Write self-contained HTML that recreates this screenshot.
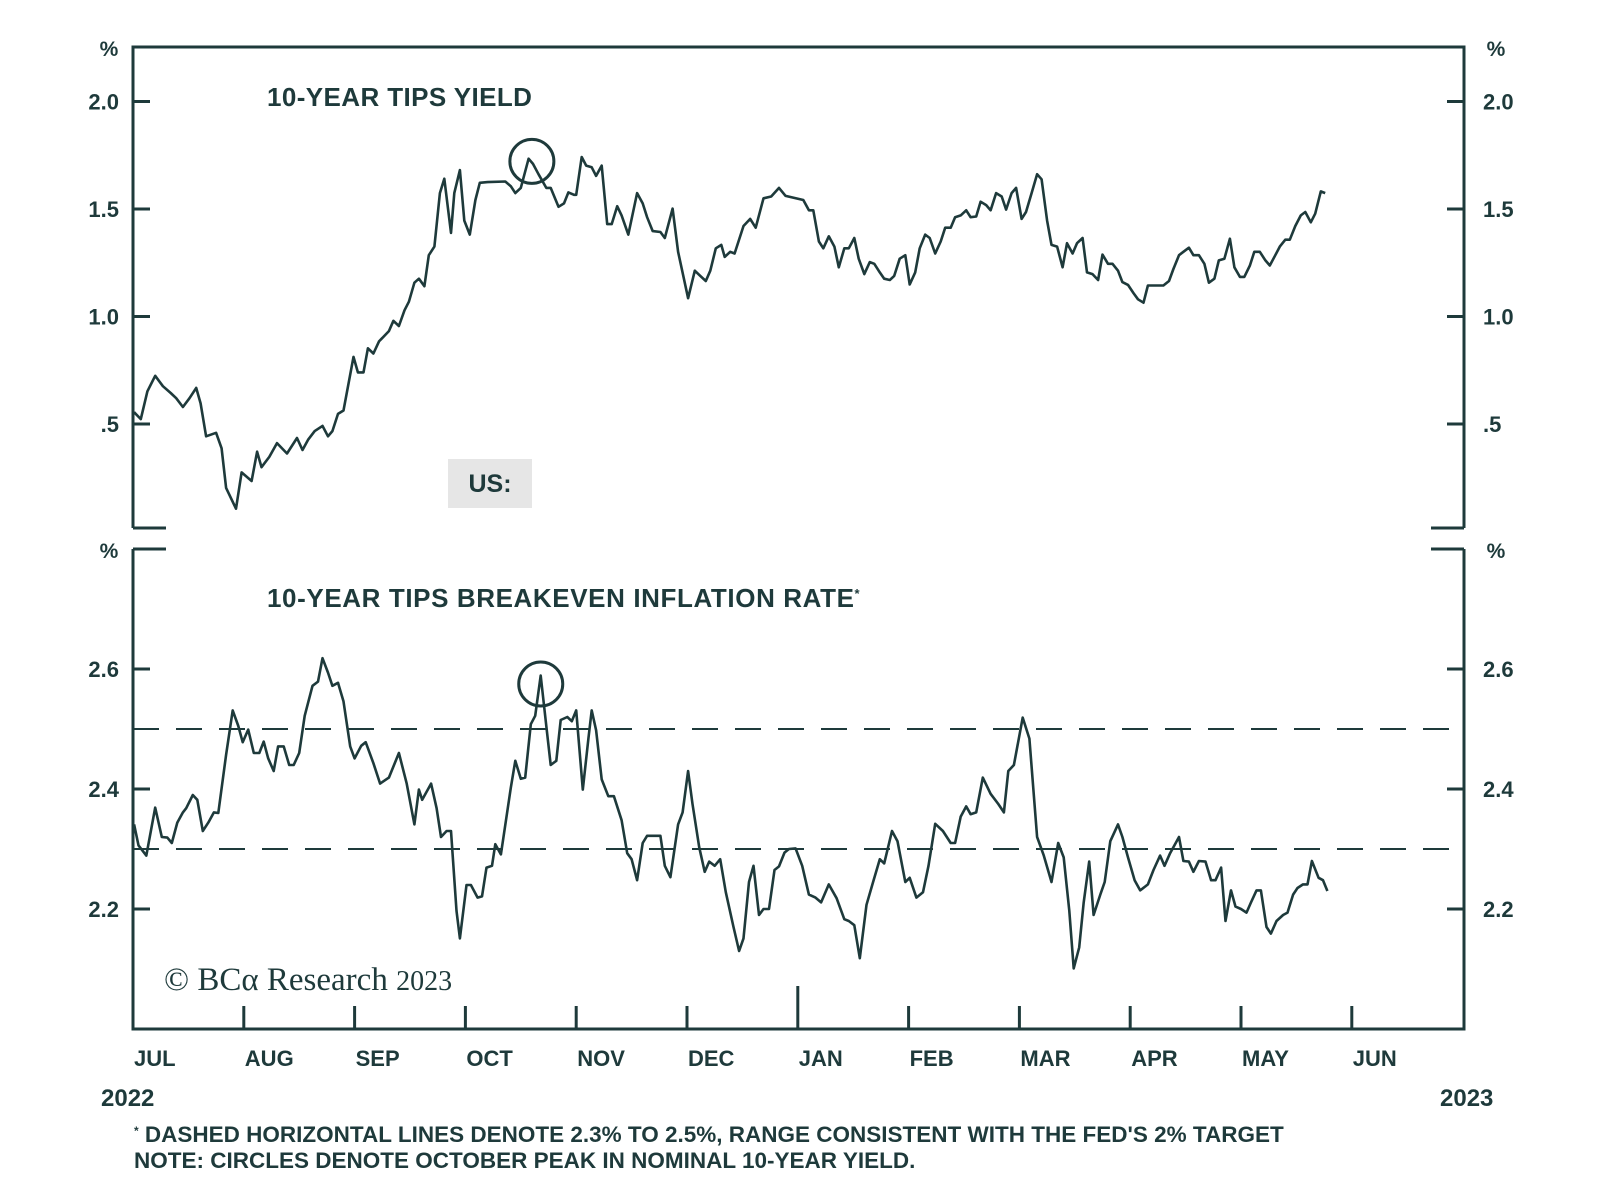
<!DOCTYPE html>
<html><head><meta charset="utf-8"><style>
html,body{margin:0;padding:0;background:#fff;}
svg{display:block;font-family:"Liberation Sans",sans-serif;}
</style></head><body>
<svg id="chart" width="1600" height="1186" viewBox="0 0 1600 1186" xmlns="http://www.w3.org/2000/svg">
<g id="frame" stroke="#1e3a3b" stroke-width="3" fill="none">
<path d="M133,528 L133,47 L1464,47 L1464,528"/>
<line x1="133" y1="528" x2="166" y2="528"/>
<line x1="1431" y1="528" x2="1464" y2="528"/>
<path d="M133,549 L133,1029 L1464,1029 L1464,549"/>
<line x1="133" y1="549" x2="166" y2="549"/>
<line x1="1431" y1="549" x2="1464" y2="549"/>
</g>
<g fill="#1e3a3b" font-weight="bold">
<text x="109" y="56" font-size="21" text-anchor="middle">%</text>
<text x="1496" y="56" font-size="21" text-anchor="middle">%</text>
<text x="109" y="558" font-size="21" text-anchor="middle">%</text>
<text x="1496" y="558" font-size="21" text-anchor="middle">%</text>
<text x="267" y="106" font-size="26" letter-spacing="0.4">10-YEAR TIPS YIELD</text>
<text x="267" y="607" font-size="26" letter-spacing="0.6">10-YEAR TIPS BREAKEVEN INFLATION RATE<tspan font-size="13" dy="-9">*</tspan></text>
</g>
<rect x="448" y="459" width="84" height="49" fill="#e6e6e6"/>
<text x="490" y="492" font-size="25" font-weight="bold" fill="#1e3a3b" text-anchor="middle">US:</text>
<text x="164" y="990" font-size="33" fill="#1e3a3b" font-family="Liberation Serif,serif">© BCα Research <tspan font-size="28">2023</tspan></text>
<g id="topAxes"></g><g id="botAxes"></g><g id="xAxis"></g>
<g id="series"></g>
<text x="101" y="1106" font-size="24" font-weight="bold" fill="#1e3a3b">2022</text>
<text x="1440" y="1106" font-size="24" font-weight="bold" fill="#1e3a3b">2023</text>
<text x="134" y="1142" font-size="22.5" font-weight="bold" fill="#1e3a3b"><tspan font-size="12" dy="-7">*</tspan><tspan dy="7"> DASHED HORIZONTAL LINES DENOTE 2.3% TO 2.5%, RANGE CONSISTENT WITH THE FED'S 2% TARGET</tspan></text>
<text x="134" y="1168" font-size="22.5" font-weight="bold" fill="#1e3a3b">NOTE: CIRCLES DENOTE OCTOBER PEAK IN NOMINAL 10-YEAR YIELD.</text>
</svg>
<script>
const monthLabels=["JUL","AUG","SEP","OCT","NOV","DEC","JAN","FEB","MAR","APR","MAY","JUN"];
const topTicks=[2.0,1.5,1.0,0.5];
const topTickLabels=["2.0","1.5","1.0",".5"];
const botTicks=[2.6,2.4,2.2];
const botTickLabels=["2.6","2.4","2.2"];
const targetBand=[2.5,2.3];
const peakMonth=3.6;
const peakTipsValue=1.74;
const peakBreakevenValue=2.575;
const tipsMonths=[0.01,0.07,0.13,0.20,0.27,0.34,0.39,0.45,0.51,0.57,0.61,0.66,0.75,0.80,0.84,0.93,0.98,1.07,1.12,1.16,1.23,1.30,1.39,1.48,1.53,1.58,1.64,1.71,1.76,1.80,1.85,1.90,1.99,2.03,2.08,2.12,2.17,2.22,2.31,2.35,2.40,2.45,2.49,2.54,2.58,2.63,2.67,2.72,2.77,2.81,2.87,2.90,2.95,2.99,3.04,3.09,3.13,3.20,3.36,3.41,3.45,3.50,3.57,3.61,3.66,3.73,3.77,3.84,3.89,3.93,3.98,4.00,4.05,4.09,4.14,4.18,4.23,4.28,4.32,4.37,4.41,4.47,4.55,4.60,4.64,4.69,4.76,4.80,4.87,4.92,5.01,5.07,5.12,5.17,5.21,5.26,5.31,5.34,5.39,5.43,5.51,5.57,5.62,5.69,5.76,5.83,5.89,
6.05,6.10,6.14,6.19,6.23,6.28,6.33,6.37,6.42,6.46,6.51,6.55,6.60,6.65,6.69,6.74,6.78,6.83,6.87,6.92,6.97,7.01,7.06,7.10,7.15,7.19,7.24,7.29,7.33,7.38,7.42,7.47,7.52,7.56,7.61,7.65,7.70,7.74,7.79,7.84,7.88,7.93,7.97,8.02,8.06,8.11,8.16,8.20,8.25,8.29,8.34,8.39,8.43,8.48,8.52,8.57,8.61,8.66,8.71,8.75,8.80,8.84,8.89,8.93,8.98,9.03,9.07,9.12,9.16,9.21,9.30,9.35,9.39,9.44,9.48,9.53,9.57,9.62,9.67,9.71,9.76,9.80,9.85,9.90,9.94,9.99,10.03,10.08,10.12,10.17,10.22,10.26,10.31,10.35,10.40,10.44,10.49,10.54,10.58,10.63,10.67,10.72,10.76];
const tipsValues=[0.555,0.523,0.652,0.724,0.676,0.644,0.620,0.579,0.620,0.668,0.596,0.443,0.459,0.387,0.203,0.106,0.275,0.235,0.371,0.299,0.347,0.411,0.363,0.435,0.379,0.427,0.467,0.491,0.443,0.467,0.547,0.563,0.812,0.740,0.740,0.852,0.828,0.884,0.932,0.980,0.956,1.029,1.069,1.157,1.176,1.141,1.285,1.325,1.574,1.641,1.389,1.574,1.681,1.446,1.381,1.542,1.622,1.625,1.628,1.606,1.574,1.598,1.734,1.710,1.662,1.598,1.598,1.510,1.526,1.577,1.566,1.566,1.742,1.702,1.694,1.654,1.702,1.430,1.430,1.513,1.470,1.381,1.574,1.526,1.462,1.397,1.393,1.365,1.502,1.301,1.085,1.213,1.189,1.165,1.213,1.317,1.333,1.277,1.301,1.293,1.421,1.454,1.413,1.550,1.558,1.598,1.561,
1.542,1.494,1.494,1.349,1.317,1.373,1.325,1.229,1.317,1.317,1.365,1.269,1.197,1.253,1.245,1.205,1.176,1.170,1.189,1.269,1.285,1.149,1.205,1.317,1.381,1.365,1.293,1.349,1.413,1.413,1.462,1.470,1.494,1.462,1.465,1.534,1.518,1.494,1.574,1.558,1.497,1.574,1.598,1.454,1.486,1.574,1.662,1.638,1.446,1.333,1.325,1.229,1.341,1.293,1.341,1.365,1.205,1.197,1.170,1.288,1.245,1.245,1.213,1.160,1.147,1.109,1.080,1.064,1.144,1.144,1.144,1.165,1.221,1.285,1.301,1.320,1.285,1.285,1.245,1.157,1.176,1.261,1.269,1.362,1.229,1.184,1.184,1.237,1.301,1.301,1.261,1.237,1.285,1.325,1.357,1.357,1.421,1.470,1.486,1.438,1.478,1.582,1.574];
const beMonths=[0.01,0.05,0.12,0.20,0.26,0.31,0.35,0.40,0.45,0.48,0.54,0.58,0.63,0.68,0.73,0.77,0.84,0.90,0.95,0.99,1.04,1.09,1.14,1.18,1.22,1.27,1.31,1.36,1.41,1.45,1.50,1.55,1.62,1.67,1.71,1.76,1.80,1.85,1.90,1.96,2.00,2.06,2.10,2.17,2.23,2.31,2.40,2.47,2.54,2.58,2.61,2.69,2.74,2.78,2.83,2.87,2.92,2.95,3.01,3.05,3.11,3.15,3.19,3.24,3.27,3.32,3.41,3.45,3.50,3.54,3.59,3.63,3.68,3.73,3.77,3.82,3.86,3.92,3.96,4.00,4.06,4.11,4.14,4.18,4.23,4.29,4.34,4.41,4.46,4.50,4.55,4.60,4.64,4.76,4.80,4.85,4.92,4.96,5.01,5.05,5.11,5.16,5.20,5.25,5.30,5.35,5.42,5.47,5.51,5.56,5.60,5.65,5.69,5.74,5.79,5.83,5.88,5.92,5.98,
6.04,6.10,6.16,6.21,6.28,6.35,6.42,6.46,6.51,6.56,6.62,6.68,6.74,6.78,6.85,6.90,6.97,7.01,7.07,7.13,7.18,7.24,7.31,7.38,7.42,7.47,7.52,7.56,7.61,7.67,7.74,7.81,7.86,7.90,7.95,8.03,8.09,8.16,8.22,8.29,8.35,8.40,8.45,8.49,8.54,8.58,8.63,8.67,8.73,8.77,8.82,8.89,8.93,8.98,9.04,9.09,9.16,9.21,9.27,9.31,9.36,9.44,9.48,9.53,9.57,9.62,9.68,9.73,9.77,9.82,9.86,9.91,9.95,10.00,10.05,10.09,10.14,10.18,10.23,10.27,10.32,10.38,10.42,10.47,10.51,10.56,10.60,10.64,10.70,10.74,10.78];
const beValues=[2.341,2.306,2.289,2.369,2.320,2.319,2.310,2.344,2.361,2.368,2.390,2.382,2.330,2.344,2.361,2.360,2.457,2.531,2.505,2.478,2.499,2.460,2.460,2.479,2.451,2.430,2.471,2.471,2.440,2.440,2.460,2.522,2.572,2.579,2.618,2.594,2.572,2.577,2.546,2.471,2.451,2.472,2.478,2.443,2.409,2.419,2.460,2.409,2.341,2.399,2.382,2.409,2.368,2.320,2.330,2.330,2.197,2.151,2.240,2.240,2.219,2.221,2.269,2.272,2.308,2.291,2.402,2.447,2.417,2.419,2.508,2.522,2.589,2.505,2.440,2.447,2.515,2.520,2.513,2.531,2.399,2.484,2.531,2.498,2.416,2.388,2.388,2.348,2.293,2.283,2.248,2.310,2.322,2.322,2.272,2.253,2.341,2.361,2.430,2.375,2.303,2.262,2.279,2.272,2.283,2.228,2.170,2.130,2.151,2.245,2.272,2.190,2.200,2.200,2.265,2.271,2.294,2.300,2.301,
2.272,2.224,2.219,2.211,2.241,2.218,2.183,2.180,2.173,2.118,2.207,2.245,2.283,2.276,2.330,2.313,2.245,2.252,2.219,2.228,2.272,2.342,2.330,2.310,2.310,2.354,2.371,2.358,2.361,2.419,2.392,2.375,2.361,2.430,2.440,2.519,2.484,2.320,2.289,2.245,2.310,2.286,2.197,2.101,2.136,2.211,2.279,2.190,2.224,2.245,2.313,2.341,2.320,2.286,2.248,2.231,2.241,2.265,2.289,2.272,2.293,2.320,2.280,2.279,2.262,2.280,2.279,2.248,2.248,2.269,2.180,2.231,2.204,2.200,2.194,2.211,2.231,2.231,2.170,2.159,2.180,2.190,2.194,2.224,2.235,2.241,2.241,2.280,2.252,2.248,2.230];

const NS="http://www.w3.org/2000/svg";
const C="#1e3a3b";
function xS(m){return 133+m*110.8;}
function yTop(v){return 101.5+(2.0-v)*215;}
function yBot(v){return 669+(2.6-v)*600;}
function mk(tag,attrs,parent){const e=document.createElementNS(NS,tag);for(const k in attrs)e.setAttribute(k,attrs[k]);parent.appendChild(e);return e;}

const topAxes=document.getElementById('topAxes');
topTicks.forEach((v,i)=>{
  const y=yTop(v);
  let t=mk('line',{x1:133,y1:y,x2:150,y2:y,stroke:C,'stroke-width':3},topAxes);
  
  
  t=mk('line',{x1:1447,y1:y,x2:1464,y2:y,stroke:C,'stroke-width':3},topAxes);
  
  
  let l=mk('text',{x:119,y:y+8,'font-size':22,'font-weight':'bold',fill:C,'text-anchor':'end'},topAxes);
  l.textContent=topTickLabels[i];
  
  
  l=mk('text',{x:1483,y:y+8,'font-size':22,'font-weight':'bold',fill:C},topAxes);
  l.textContent=topTickLabels[i];
  
  
});
const botAxes=document.getElementById('botAxes');
botTicks.forEach((v,i)=>{
  const y=yBot(v);
  let t=mk('line',{x1:133,y1:y,x2:150,y2:y,stroke:C,'stroke-width':3},botAxes);
  
  
  t=mk('line',{x1:1447,y1:y,x2:1464,y2:y,stroke:C,'stroke-width':3},botAxes);
  
  
  let l=mk('text',{x:119,y:y+8,'font-size':22,'font-weight':'bold',fill:C,'text-anchor':'end'},botAxes);
  l.textContent=botTickLabels[i];
  
  
  l=mk('text',{x:1483,y:y+8,'font-size':22,'font-weight':'bold',fill:C},botAxes);
  l.textContent=botTickLabels[i];
  
  
});
targetBand.forEach(v=>{
  const d=mk('line',{x1:133,y1:yBot(v),x2:1464,y2:yBot(v),stroke:C,'stroke-width':2,'stroke-dasharray':'26,17'},botAxes);
  
  
});
const xAxis=document.getElementById('xAxis');
monthLabels.forEach((m,i)=>{
  const x=xS(i);
  if(i>0){
    const tk=mk('line',{x1:x,y1:(m==="JAN"?986:1006),x2:x,y2:1029,stroke:C,'stroke-width':3},xAxis);
    
    
  }
  const l=mk('text',{x:x+1,y:1066,'font-size':22,'font-weight':'bold',fill:C},xAxis);
  l.textContent=m;
  
  
});
const series=document.getElementById('series');
function pathFrom(ms,vs,yf){return ms.map((m,i)=>(i?'L':'M')+xS(m).toFixed(1)+','+yf(vs[i]).toFixed(1)).join(' ');}
const p1=mk('path',{d:pathFrom(tipsMonths,tipsValues,yTop),fill:'none',stroke:C,'stroke-width':2.6,'stroke-linejoin':'round'},series);


const p2=mk('path',{d:pathFrom(beMonths,beValues,yBot),fill:'none',stroke:C,'stroke-width':2.6,'stroke-linejoin':'round'},series);


const c1=mk('circle',{cx:xS(peakMonth),cy:yTop(peakTipsValue)+4,r:22,fill:'none',stroke:C,'stroke-width':3},series);


const c2=mk('circle',{cx:xS(peakMonth+0.08),cy:yBot(peakBreakevenValue),r:22,fill:'none',stroke:C,'stroke-width':3},series);


</script>
</body></html>
